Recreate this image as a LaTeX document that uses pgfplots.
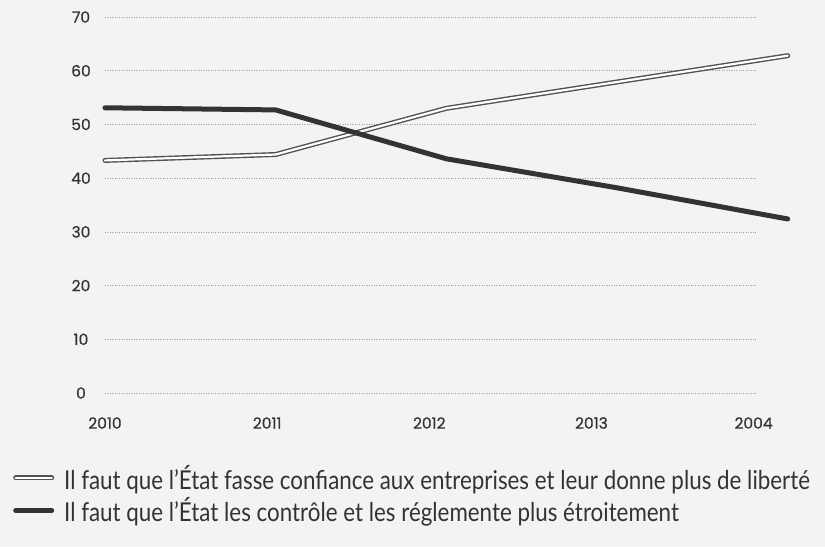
\documentclass[border=0pt]{standalone}
\usepackage{pgfplots}
\pgfplotsset{compat=1.18}
\usepackage{fontspec}
\setmainfont{Lato}
\newfontfamily\tickfont[FakeBold=0.6]{Poppins}
\newfontfamily\legfont[FakeStretch=0.86]{Lato}
\definecolor{ink}{HTML}{333333}
\definecolor{bg}{HTML}{F3F3F1}
\begin{document}
\begin{tikzpicture}
\useasboundingbox[fill=bg] (-105pt,-154pt) rectangle (720pt,393pt);
\begin{axis}[
  at={(0pt,0pt)}, anchor=origin,
  scale only axis, width=652pt, height=376pt,
  xmin=0, xmax=3.82, ymin=0, ymax=70,
  clip=false,
  axis line style={draw=none},
  major tick length=0pt,
  ytick={0,10,...,70},
  xtick={0,0.95,1.9,2.85,3.8},
  xticklabels={2010,2011,2012,2013,2004},
  ymajorgrids,
  grid style={dotted, gray!75, line width=0.7pt},
  /pgf/number format/assume math mode=true,
  tick label style={font=\tickfont\fontsize{15.5}{15.5}\selectfont, text=ink},
  yticklabel style={anchor=center, xshift=-24pt},
  xticklabel style={anchor=center, yshift=-30pt},
  legend style={at={(rel axis cs:0,0)}, anchor=north west, xshift=-92pt, yshift=-70pt,
    draw=none, fill=none, font=\legfont\fontsize{26}{26}\selectfont, text=ink,
    row sep=3pt, cells={anchor=west}, inner sep=0pt},
  legend cell align=left,
  legend image code/.code={\draw[#1] (0pt,0pt) -- (36pt,0pt);},
]
\addplot[ink!85, line width=1.4pt, double=white, double distance=2.2pt, line join=round, line cap=round]
  coordinates {(0,43.3) (1,44.4) (2,53.0) (3,57.9) (4,62.8)};
\addlegendentry{\hspace{8pt}Il faut que l’État fasse confiance aux entreprises et leur donne plus de liberté}
\addplot[ink, line width=5pt, line join=round, line cap=round]
  coordinates {(0,53.1) (1,52.7) (2,43.6) (3,38.2) (4,32.4)};
\addlegendentry{\hspace{8pt}Il faut que l’État les contrôle et les réglemente plus étroitement}
\end{axis}
\end{tikzpicture}
\end{document}
